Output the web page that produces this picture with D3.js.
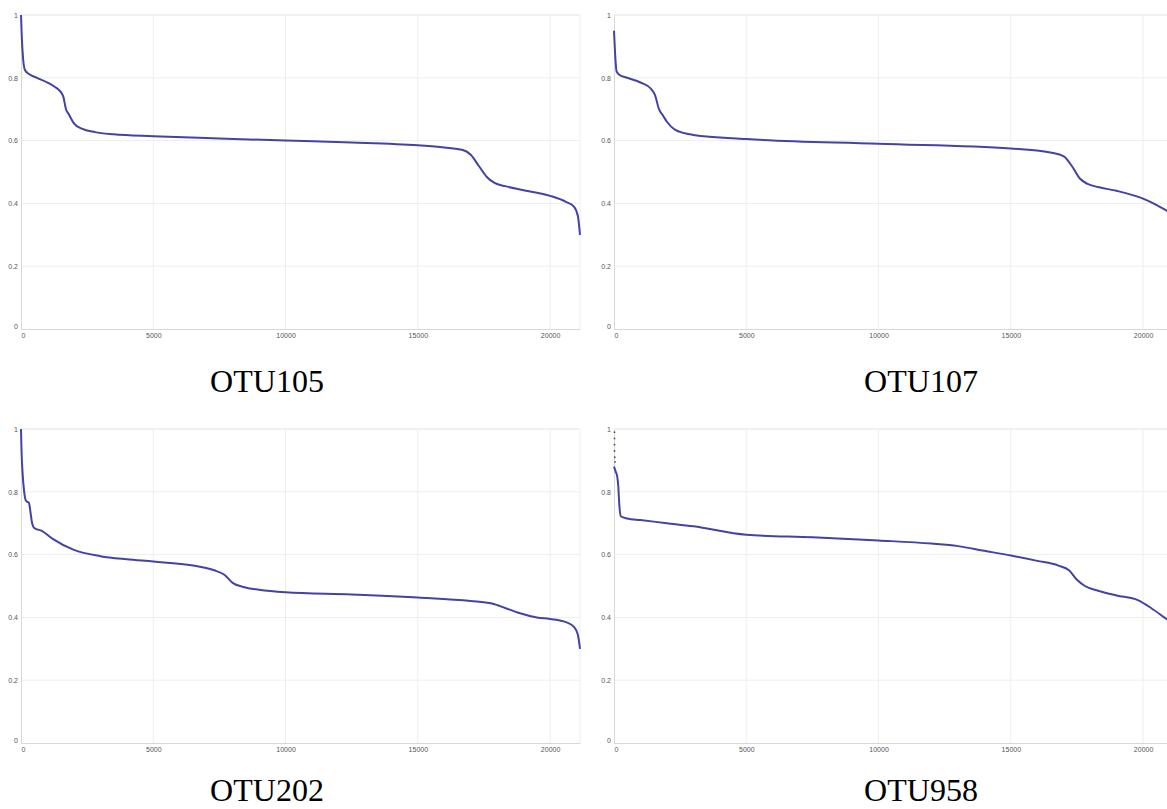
<!DOCTYPE html>
<html>
<head>
<meta charset="utf-8">
<script src="https://cdn.jsdelivr.net/npm/d3@7"></script>
<style>
  body { margin: 0; background: #fff; overflow: hidden; }
  .tick text { font-family: "Liberation Sans", Arial, sans-serif; font-size: 7px; fill: #555; }
  .caption { font-family: "Liberation Serif", "Times New Roman", serif; font-size: 32px; fill: #000; }
</style>
</head>
<body>
<script>
// Ranked values per OTU (rank on x, value on y)
const otu105Rank = [0, 30, 80, 150, 300, 600, 1000, 1300, 1500, 1600, 1700, 1800, 2000, 2300, 2800, 3500, 5000, 7500, 10000, 12500, 15000, 16000, 16700, 17000, 17300, 17600, 17900, 18300, 19000, 20000, 20600, 20900, 21050, 21130];
const otu105Value = [1.0, 0.93, 0.86, 0.825, 0.812, 0.80, 0.785, 0.77, 0.755, 0.74, 0.70, 0.685, 0.655, 0.638, 0.627, 0.62, 0.614, 0.607, 0.600, 0.594, 0.585, 0.578, 0.57, 0.555, 0.52, 0.485, 0.465, 0.455, 0.442, 0.424, 0.405, 0.39, 0.36, 0.30];

const otu107Rank = [0, 40, 100, 200, 500, 1000, 1400, 1550, 1700, 1850, 2000, 2300, 3000, 5000, 10000, 15000, 16500, 17000, 17300, 17600, 17900, 18300, 19000, 20000, 20500, 21000, 21130];
const otu107Value = [0.95, 0.88, 0.82, 0.81, 0.80, 0.785, 0.765, 0.745, 0.70, 0.68, 0.66, 0.635, 0.618, 0.605, 0.59, 0.575, 0.562, 0.55, 0.52, 0.48, 0.462, 0.452, 0.44, 0.415, 0.395, 0.37, 0.36];

const otu202Rank = [0, 20, 60, 120, 200, 300, 350, 420, 500, 800, 1200, 2000, 3000, 4000, 5000, 6500, 7300, 7700, 8000, 8400, 9000, 10000, 12500, 15000, 17000, 17800, 18300, 18800, 19500, 20000, 20600, 20900, 21050, 21130];
const otu202Value = [1.0, 0.93, 0.86, 0.80, 0.77, 0.765, 0.74, 0.70, 0.685, 0.675, 0.65, 0.615, 0.595, 0.585, 0.578, 0.565, 0.55, 0.535, 0.51, 0.497, 0.488, 0.48, 0.473, 0.463, 0.452, 0.444, 0.43, 0.415, 0.40, 0.395, 0.385, 0.37, 0.345, 0.30];

const otu958Rank = [0, 60, 120, 160, 200, 260, 500, 1000, 2000, 3000, 5000, 7500, 10000, 12000, 13000, 14000, 15000, 16000, 16800, 17200, 17500, 17800, 18300, 19000, 19800, 20300, 20800, 21130];
const otu958Value = [0.88, 0.865, 0.85, 0.82, 0.76, 0.722, 0.715, 0.71, 0.70, 0.69, 0.663, 0.655, 0.645, 0.635, 0.627, 0.612, 0.597, 0.58, 0.565, 0.55, 0.52, 0.5, 0.485, 0.47, 0.455, 0.43, 0.40, 0.38];
// loose points sitting above the start of OTU958
const otu958TopRank = [0, 0, 0, 0, 10, 20];
const otu958TopValue = [0.99, 0.97, 0.95, 0.93, 0.91, 0.895];

const xTicks = [0, 5000, 10000, 15000, 20000];
const yTicks = [0, 0.2, 0.4, 0.6, 0.8, 1];

const panels = [
  { name: "OTU105", rank: otu105Rank, value: otu105Value, left: 21, top: 15, cx: 267, cy: 392 },
  { name: "OTU107", rank: otu107Rank, value: otu107Value, left: 614, top: 15, cx: 921, cy: 392 },
  { name: "OTU202", rank: otu202Rank, value: otu202Value, left: 21, top: 429, cx: 267, cy: 801 },
  { name: "OTU958", rank: otu958Rank, value: otu958Value, left: 614, top: 429, cx: 921, cy: 801,
    extraRank: otu958TopRank, extraValue: otu958TopValue }
];

const width = 559;
const height = 314;
const lineColor = "#4343a6";

const svg = d3.select("body").append("svg")
  .attr("width", 1167)
  .attr("height", 809);

panels.forEach((p) => {
  const xscale = d3.scaleLinear().domain([0, 21130]).range([0, width]);
  const yscale = d3.scaleLinear().domain([0, 1]).range([height, 0]);

  const g = svg.append("g").attr("transform", `translate(${p.left},${p.top})`);

  // grid
  g.append("g").selectAll("line.v").data(xTicks.slice(1)).join("line")
    .attr("x1", (d) => xscale(d)).attr("x2", (d) => xscale(d))
    .attr("y1", 0).attr("y2", height)
    .attr("stroke", "#eeeeee");
  g.append("g").selectAll("line.h").data(yTicks.slice(1)).join("line")
    .attr("x1", 0).attr("x2", width)
    .attr("y1", (d) => yscale(d)).attr("y2", (d) => yscale(d))
    .attr("stroke", (d) => d === 1 ? "#e2e2e2" : "#eeeeee");
  g.append("line")
    .attr("x1", width).attr("x2", width).attr("y1", 0).attr("y2", height)
    .attr("stroke", "#eeeeee");

  // axes
  const xaxis = d3.axisBottom(xscale).tickValues(xTicks).tickSize(0).tickPadding(4)
    .tickFormat(d3.format("d"));
  const yaxis = d3.axisLeft(yscale).tickValues(yTicks).tickSize(0).tickPadding(3)
    .tickFormat((d) => d3.format("~g")(d));

  const gx = g.append("g").attr("transform", `translate(0,${height})`).call(xaxis);
  gx.select(".domain").attr("stroke", "#d8d8d8");
  gx.selectAll(".tick text").attr("fill", "#555").filter((d) => d === 0).attr("dx", 2);

  const gy = g.append("g").call(yaxis);
  gy.select(".domain").attr("stroke", "#d8d8d8");
  gy.selectAll(".tick text").attr("fill", "#555").filter((d) => d === 0).attr("dy", "-0.1em");

  // curve
  const pts = p.rank.map((r, i) => [r, p.value[i]]);
  const line = d3.line()
    .x((d) => xscale(d[0]))
    .y((d) => yscale(d[1]))
    .curve(d3.curveMonotoneX);

  g.append("path")
    .datum(pts)
    .attr("fill", "none")
    .attr("stroke", lineColor)
    .attr("stroke-width", 2)
    .attr("d", line);

  if (p.extraRank) {
    g.selectAll("circle.extra")
      .data(p.extraRank.map((r, i) => [r, p.extraValue[i]]))
      .join("circle")
      .attr("cx", (d) => xscale(d[0]) + 0.5)
      .attr("cy", (d) => yscale(d[1]))
      .attr("r", 0.9)
      .attr("fill", lineColor);
  }

  svg.append("text")
    .attr("class", "caption")
    .attr("x", p.cx)
    .attr("y", p.cy)
    .attr("text-anchor", "middle")
    .text(p.name);
});
</script>
</body>
</html>
